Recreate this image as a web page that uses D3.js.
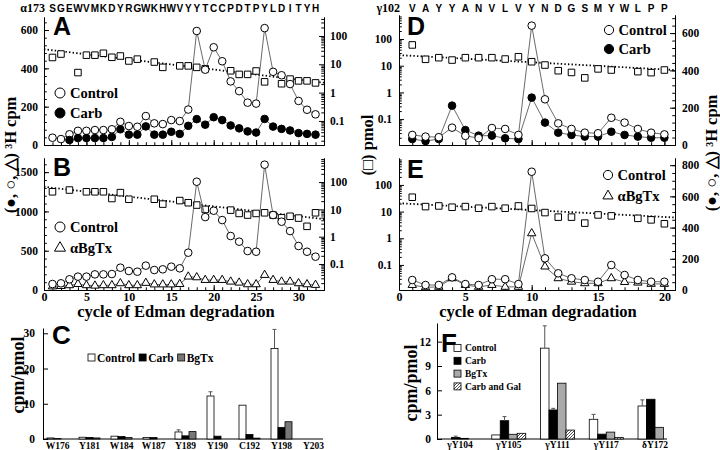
<!DOCTYPE html>
<html><head><meta charset="utf-8">
<script src="https://cdn.jsdelivr.net/npm/d3@7"></script>
<style>body{margin:0;background:#fff}svg{display:block}</style>
</head><body><svg id="c" width="720" height="450"></svg>
<script>
// ---------------- DATA ----------------
const seqA = "SGEWVMKDYRGWKHWVYYTCCPDTPYLDITYH".split("");
const seqAStart = "α173";
const seqD = "VAYYANVLVYNDGSMYWLPP".split("");
const seqDStart = "γ102";

// Panel A (cycles 1..32)
const aControl = [38,31,56,74,74,78,78,82,121,99,95,151,113,109,130,125,185,595,393,510,437,332,281,221,216,610,382,364,318,230,184,160];
const aCarb = [null,null,26,36,36,36,36,42,82,54,54,97,54,54,69,58,100,135,106,145,130,102,87,71,65,136,96,84,76,62,58,54];
const aPmol = [17.4,23,null,5.1,21,21,24.5,17.7,19.6,13.1,15.2,null,12,7.8,null,8.8,8.8,7.8,6.9,null,null,5.9,4.4,4.4,5.8,2.4,null,2.06,3.0,2.6,2.6,2.2];
const aTrend = [[0,34],[33,2.24]];

// Panel B
const bControl = [76,85,136,170,170,199,199,203,284,242,233,310,254,263,297,276,475,1378,928,1009,890,687,615,496,487,1595,954,869,750,560,487,424];
const bBgtx = [45,50,60,75,60,55,60,60,85,60,60,90,70,70,70,75,170,161,127,127,127,106,93,72,72,191,127,106,106,85,72,64];
const bPmol = [44,null,51,null,44,44,44,25,41,23.5,null,null,23.5,15.6,null,21,17.5,14.4,10,null,null,9.4,7.1,6.2,7.1,7.5,6.2,4.9,5.6,4.8,2.4,7.5];
const bTrend = [[0,67],[33,4.4]];

// Panel D (cycles 1..20)
const dControl = [54,45,42,93,49,37,91,86,54,640,245,116,86,66,63,146,120,86,66,57];
const dCarb = [32,21,32,211,80,50,50,36,32,254,120,66,54,45,45,71,54,45,39,39];
const dPmol = [60,17.4,20,16.3,20,20,20,17.8,21.7,14.1,10.6,6.5,5.6,3.5,7.6,6.9,null,6.0,5.5,6.9];
const dTrend = [[0,25],[20.8,6.9]];

// Panel E
const eControl = [64,32,32,81,38,32,69,69,38,758,203,107,75,64,53,160,96,64,53,53];
const eBgtx = [32,17,20,75,32,20,32,20,20,363,150,75,53,43,43,75,51,47,39,39];
const ePmol = [34.6,15.4,16.3,14.6,15.4,13.4,15.4,13.4,16.3,13.1,9.2,6.2,6.2,3.7,7.5,6.9,null,5.6,4.9,3.5];
const eTrend = [[0,20.6],[20.8,6.0]];

// Panel C
const cCats = ["W176","Y181","W184","W187","Y189","Y190","C192","Y198","Y203"];
const cSeries = ["Control","Carb","BgTx"];
const cControl = [0.3,0.5,0.8,0.45,2.0,12.2,9.6,25.7,0];
const cCarb = [0.1,0.45,0.7,0.4,0.9,0.8,1.3,3.3,0];
const cBgtx = [0,0.3,0.4,0,2.1,0,0.25,4.9,0];
const cControlErr = [0,0,0,0,0.6,1.2,0,5.4,0];

// Panel F
const fCats = ["γY104","γY105","γY111","γY117","δY172"];
const fSeries = ["Control","Carb","BgTx","Carb and Gal"];
const fControl = [0,0.5,11.2,2.43,4.07];
const fCarb = [0.2,2.26,3.58,0.6,4.9];
const fBgtx = [0.08,0.58,6.88,0.85,1.44];
const fCarbGal = [0,0.7,1.1,0.2,0];
const fControlErr = [0,0,2.75,0.6,0.75];
const fCarbErr = [0.15,0.5,0.2,0,0];

// ---------------- DRAW ----------------
const svg = d3.select("#c");
const serif = '"Liberation Serif","Times New Roman",serif';
const sans = '"Liberation Sans",Arial,sans-serif';
const intFmt = d3.format("d");

const defs = svg.append("defs");
const pat = defs.append("pattern").attr("id","hatch").attr("patternUnits","userSpaceOnUse").attr("width",3).attr("height",3);
pat.append("rect").attr("width",3).attr("height",3).attr("fill","#fff");
pat.append("path").attr("d","M-1,1 l2,-2 M0,3 l3,-3 M2,4 l2,-2").attr("stroke","#000").attr("stroke-width",0.7);

function styleAxis(g, fs){
  g.selectAll("path.domain").attr("stroke","#000").attr("stroke-width",1);
  g.selectAll(".tick line").attr("stroke","#000").attr("stroke-width",1);
  g.selectAll("text").attr("font-family",serif).attr("font-weight","bold").attr("font-size",fs).attr("fill","#000");
  return g;
}
function logMinor(dom){const o=[];for(let e=-3;e<=3;e++)for(let m=2;m<=9;m++){const v=m*Math.pow(10,e);if(v>=dom[0]&&v<=dom[1])o.push(v);}return o;}
const logFmt = d => String(d);

function axisAt(axisFn, scale, pos, isVert, major, minor, size, pad, fmt, fs){
  const tr = isVert ? `translate(${pos},0)` : `translate(0,${pos})`;
  if(minor){
    const gm = svg.append("g").attr("transform",tr).call(axisFn(scale).tickValues(minor).tickSize(-size*0.55).tickSizeOuter(0).tickFormat(""));
    gm.selectAll("text").remove();
    styleAxis(gm, fs);
  }
  const a = axisFn(scale).tickValues(major).tickSize(-size).tickSizeOuter(0).tickPadding(pad);
  if(fmt===null) a.tickFormat(""); else a.tickFormat(fmt || intFmt);
  const g = svg.append("g").attr("transform",tr).call(a);
  if(fmt===null) g.selectAll("text").remove();
  return styleAxis(g, fs);
}

function symbolPath(type, r){
  if(type==="square") return d3.symbol(d3.symbolSquare, (2*r*0.86)**2)();
  if(type==="triangle") return d3.symbol(d3.symbolTriangle, r*r*2.1)();
  return d3.symbol(d3.symbolCircle, Math.PI*r*r)();
}
function drawPoints(data, x, y, type, fill, r){
  const pts = data.map((v,i)=>({c:i+1,v})).filter(d=>d.v!=null);
  svg.append("g").selectAll("path").data(pts).join("path")
    .attr("transform",d=>`translate(${x(d.c)},${y(d.v)})`)
    .attr("d",symbolPath(type,r)).attr("fill",fill).attr("stroke","#000").attr("stroke-width",1);
}
function drawLine(data, x, y){
  const pts = data.map((v,i)=>({c:i+1,v}));
  svg.append("path").datum(pts)
    .attr("d",d3.line().defined(d=>d.v!=null).x(d=>x(d.c)).y(d=>y(d.v)))
    .attr("fill","none").attr("stroke","#444").attr("stroke-width",0.8);
}
function drawTrend(tr, x, y){
  svg.append("path").datum(tr).attr("d",d3.line().x(d=>x(d[0])).y(d=>y(d[1])))
    .attr("fill","none").attr("stroke","#000").attr("stroke-width",1.8).attr("stroke-dasharray","1.4,2.2");
}
function legendItem(x0, y0, type, fill, label, r, fs){
  svg.append("path").attr("transform",`translate(${x0},${y0})`).attr("d",symbolPath(type,r))
    .attr("fill",fill).attr("stroke","#000").attr("stroke-width",1);
  svg.append("text").attr("x",x0+r+5).attr("y",y0).attr("dy","0.35em")
    .attr("font-family",serif).attr("font-weight","bold").attr("font-size",fs).text(label);
}
function panelLetter(t, x0, y0, fs){
  svg.append("text").attr("x",x0).attr("y",y0).attr("font-family",sans).attr("font-weight","bold")
    .attr("font-size",fs||25).text(t);
}
function sequence(letters, start, x, endX){
  svg.append("text").attr("x",endX).attr("y",11.5).attr("text-anchor","end").attr("font-family",serif)
    .attr("font-weight","bold").attr("font-size",12).text(start);
  svg.append("g").selectAll("text").data(letters).join("text")
    .attr("x",(d,i)=>x(i+1)).attr("y",11.5).attr("text-anchor","middle")
    .attr("font-family",sans).attr("font-weight","bold").attr("font-size",10).text(d=>d);
}

const R = 3.8;
const cycA = d3.range(0,34), cycD = d3.range(0,21);

// ===== Panel A =====
const xA = d3.scaleLinear().domain([0,33]).range([44,324]);
const yAL = d3.scaleLinear().domain([0,668]).range([145,17]);
const yAR = d3.scaleLog().domain([Math.pow(10,-1.85),Math.pow(10,2.67)]).range([145,17]);
axisAt(d3.axisLeft, yAL, 44, true, [0,200,400,600], d3.range(0,668,40), 5, 6, undefined, 11.5);
axisAt(d3.axisRight, yAR, 324, true, [0.1,1,10,100], logMinor(yAR.domain()), 5, 6, logFmt, 11.5);
axisAt(d3.axisBottom, xA, 145, false, cycA.filter(d=>d%5===0), cycA, 5, 3, null, 11.5);
drawTrend(aTrend, xA, yAR);
drawPoints(aPmol, xA, yAR, "square", "#fff", R);
drawLine(aControl, xA, yAL);
drawLine(aCarb, xA, yAL);
drawPoints(aControl, xA, yAL, "circle", "#fff", R);
drawPoints(aCarb, xA, yAL, "circle", "#000", R);
panelLetter("A", 53, 35);
legendItem(60, 93, "circle", "#fff", "Control", 5, 14.5);
legendItem(60, 113, "circle", "#000", "Carb", 5, 14.5);
sequence(seqA, seqAStart, xA, 45);

// ===== Panel B =====
const yBL = d3.scaleLinear().domain([0,1680]).range([290,158]);
const yBR = d3.scaleLog().domain([Math.pow(10,-1.95),Math.pow(10,2.88)]).range([290,158]);
axisAt(d3.axisLeft, yBL, 44, true, [0,500,1000,1500], d3.range(0,1680,100), 5, 6, undefined, 11.5);
axisAt(d3.axisRight, yBR, 324, true, [0.1,1,10,100], logMinor(yBR.domain()), 5, 6, logFmt, 11.5);
axisAt(d3.axisBottom, xA, 290, false, cycA.filter(d=>d%5===0), cycA, 5, 2, undefined, 12);
drawTrend(bTrend, xA, yBR);
drawPoints(bPmol, xA, yBR, "square", "#fff", R);
drawLine(bBgtx, xA, yBL);
drawLine(bControl, xA, yBL);
drawPoints(bBgtx, xA, yBL, "triangle", "#fff", R);
drawPoints(bControl, xA, yBL, "circle", "#fff", R);
panelLetter("B", 53, 176);
legendItem(60, 227, "circle", "#fff", "Control", 5, 14.5);
legendItem(60, 248, "triangle", "#fff", "αBgTx", 5, 14.5);

// ===== Panel D =====
const xD = d3.scaleLinear().domain([0,20.8]).range([399,675]);
const yDL = d3.scaleLog().domain([Math.pow(10,-1.97),Math.pow(10,2.9)]).range([145,15]);
const yDR = d3.scaleLinear().domain([0,697]).range([145,15]);
axisAt(d3.axisLeft, yDL, 399, true, [0.1,1,10,100], logMinor(yDL.domain()), 5, 7, logFmt, 11.5);
axisAt(d3.axisRight, yDR, 675, true, [0,200,400,600], d3.range(0,697,40), 5, 7, undefined, 11.5);
axisAt(d3.axisBottom, xD, 145, false, cycD.filter(d=>d%5===0), cycD, 5, 3, null, 11.5);
drawTrend(dTrend, xD, yDL);
drawPoints(dPmol, xD, yDL, "square", "#fff", R);
drawLine(dCarb, xD, yDR);
drawLine(dControl, xD, yDR);
drawPoints(dCarb, xD, yDR, "circle", "#000", R);
drawPoints(dControl, xD, yDR, "circle", "#fff", R);
panelLetter("D", 407, 35);
legendItem(609, 30, "circle", "#fff", "Control", 4.6, 14.5);
legendItem(609, 49, "circle", "#000", "Carb", 4.6, 14.5);
sequence(seqD, seqDStart, xD, 400);

// ===== Panel E =====
const yEL = d3.scaleLog().domain([Math.pow(10,-1.94),Math.pow(10,3.01)]).range([290,158]);
const yER = d3.scaleLinear().domain([0,846]).range([290,158]);
axisAt(d3.axisLeft, yEL, 399, true, [0.1,1,10,100], logMinor(yEL.domain()), 5, 7, logFmt, 11.5);
axisAt(d3.axisRight, yER, 675, true, [0,200,400,600,800], d3.range(0,846,50), 5, 7, undefined, 11.5);
axisAt(d3.axisBottom, xD, 290, false, cycD.filter(d=>d%5===0), cycD, 5, 2, undefined, 12);
drawTrend(eTrend, xD, yEL);
drawPoints(ePmol, xD, yEL, "square", "#fff", R);
drawLine(eBgtx, xD, yER);
drawLine(eControl, xD, yER);
drawPoints(eBgtx, xD, yER, "triangle", "#fff", R);
drawPoints(eControl, xD, yER, "circle", "#fff", R);
panelLetter("E", 407, 178);
legendItem(608, 175, "circle", "#fff", "Control", 4.6, 14.5);
legendItem(608, 196, "triangle", "#fff", "αBgTx", 4.6, 14.5);

// axis titles
function vText(t, x0, y0, fs){
  svg.append("text").attr("transform",`translate(${x0},${y0}) rotate(-90)`).attr("text-anchor","middle")
    .attr("dy","0.35em").attr("font-family",serif).attr("font-weight","bold").attr("font-size",fs).text(t);
}
vText("(●, ○, △) ³H cpm", 10, 155, 16.5);
vText("(□) pmol", 367, 145, 16.5);
vText("(●, ○, △) ³H cpm", 711, 153, 16.5);
svg.append("text").attr("x",176).attr("y",317).attr("text-anchor","middle").attr("font-family",serif)
  .attr("font-weight","bold").attr("font-size",16.5).text("cycle of Edman degradation");
svg.append("text").attr("x",538).attr("y",317).attr("text-anchor","middle").attr("font-family",serif)
  .attr("font-weight","bold").attr("font-size",16.5).text("cycle of Edman degradation");

// ===== Panel C =====
const xC = d3.scaleBand().domain(cCats).range([41.5,329.5]);
const xCi = d3.scaleBand().domain(cSeries).range([0,21]);
const yC = d3.scaleLinear().domain([0,31.5]).range([439,328]);
const cColors = {"Control":"#fff","Carb":"#000","BgTx":"#777"};
const cVals = {"Control":cControl,"Carb":cCarb,"BgTx":cBgtx};
axisAt(d3.axisLeft, yC, 43, true, [0,10,20,30], null, 5, 8, undefined, 11.5);
svg.append("line").attr("x1",43).attr("x2",323).attr("y1",439).attr("y2",439).attr("stroke","#000");
cSeries.forEach(s=>{
  svg.append("g").selectAll("rect").data(cCats.map((c,i)=>({c,v:cVals[s][i]})).filter(d=>d.v>0)).join("rect")
    .attr("x",d=>xC(d.c)+xC.bandwidth()/2-10.5+xCi(s)).attr("width",xCi.bandwidth())
    .attr("y",d=>yC(d.v)).attr("height",d=>yC(0)-yC(d.v))
    .attr("fill",cColors[s]).attr("stroke","#000").attr("stroke-width",0.8);
});
svg.append("g").selectAll("path").data(cCats.map((c,i)=>({c,v:cControl[i],e:cControlErr[i]})).filter(d=>d.e>0)).join("path")
  .attr("d",d=>{const x0=xC(d.c)+xC.bandwidth()/2-10.5+xCi("Control")+xCi.bandwidth()/2;
    return `M${x0},${yC(d.v)}V${yC(d.v+d.e)}M${x0-2},${yC(d.v+d.e)}H${x0+2}`;})
  .attr("stroke","#555").attr("stroke-width",1).attr("fill","none");
svg.append("g").selectAll("text").data(cCats).join("text")
  .attr("x",d=>xC(d)+xC.bandwidth()/2).attr("y",449).attr("text-anchor","middle")
  .attr("font-family",serif).attr("font-weight","bold").attr("font-size",9.5).text(d=>d);
panelLetter("C", 52, 344, 26);
vText("cpm/pmol", 18, 375, 18);
// legend C
(function(){
  let x0 = 88;
  cSeries.forEach(s=>{
    svg.append("rect").attr("x",x0).attr("y",354).attr("width",7).attr("height",7)
      .attr("fill",cColors[s]).attr("stroke","#000").attr("stroke-width",0.8);
    const t = svg.append("text").attr("x",x0+9).attr("y",362).attr("font-family",serif)
      .attr("font-weight","bold").attr("font-size",11.5).text(s);
    x0 += 9 + t.node().getComputedTextLength() + 4;
  });
})();

// ===== Panel F =====
const xF = d3.scaleBand().domain(fCats).range([435.6,679.4]);
const xFi = d3.scaleBand().domain(fSeries).range([0,34]);
const yF = d3.scaleLinear().domain([0,14.3]).range([439,323]);
const fColors = {"Control":"#fff","Carb":"#000","BgTx":"#aaa","Carb and Gal":"url(#hatch)"};
const fVals = {"Control":fControl,"Carb":fCarb,"BgTx":fBgtx,"Carb and Gal":fCarbGal};
axisAt(d3.axisLeft, yF, 437, true, [0,3,6,9,12], null, 5, 6, undefined, 11.5);
svg.append("line").attr("x1",437).attr("x2",667).attr("y1",439).attr("y2",439).attr("stroke","#000");
fSeries.forEach(s=>{
  svg.append("g").selectAll("rect").data(fCats.map((c,i)=>({c,v:fVals[s][i]})).filter(d=>d.v>0)).join("rect")
    .attr("x",d=>xF(d.c)+xF.bandwidth()/2-17+xFi(s)).attr("width",xFi.bandwidth())
    .attr("y",d=>yF(d.v)).attr("height",d=>yF(0)-yF(d.v))
    .attr("fill",fColors[s]).attr("stroke","#000").attr("stroke-width",0.8);
});
function fErr(s, vals, errs){
  svg.append("g").selectAll("path").data(fCats.map((c,i)=>({c,v:vals[i],e:errs[i]})).filter(d=>d.e>0)).join("path")
    .attr("d",d=>{const x0=xF(d.c)+xF.bandwidth()/2-17+xFi(s)+xFi.bandwidth()/2;
      return `M${x0},${yF(d.v)}V${yF(d.v+d.e)}M${x0-2},${yF(d.v+d.e)}H${x0+2}`;})
    .attr("stroke","#555").attr("stroke-width",1).attr("fill","none");
}
fErr("Control", fControl, fControlErr);
fErr("Carb", fCarb, fCarbErr);
svg.append("g").selectAll("text").data(fCats).join("text")
  .attr("x",d=>xF(d)+xF.bandwidth()/2).attr("y",448).attr("text-anchor","middle")
  .attr("font-family",serif).attr("font-weight","bold").attr("font-size",9.5).text(d=>d);
panelLetter("F", 441, 352, 26);
vText("cpm/pmol", 411, 383, 18);
fSeries.forEach((s,i)=>{
  const yy = 348 + i*12.8;
  svg.append("rect").attr("x",454).attr("y",yy-3.5).attr("width",7).attr("height",7)
    .attr("fill",fColors[s]).attr("stroke","#000").attr("stroke-width",0.8);
  svg.append("text").attr("x",465).attr("y",yy).attr("dy","0.35em").attr("font-family",serif)
    .attr("font-weight","bold").attr("font-size",9.5).text(s);
});
</script></body></html>
